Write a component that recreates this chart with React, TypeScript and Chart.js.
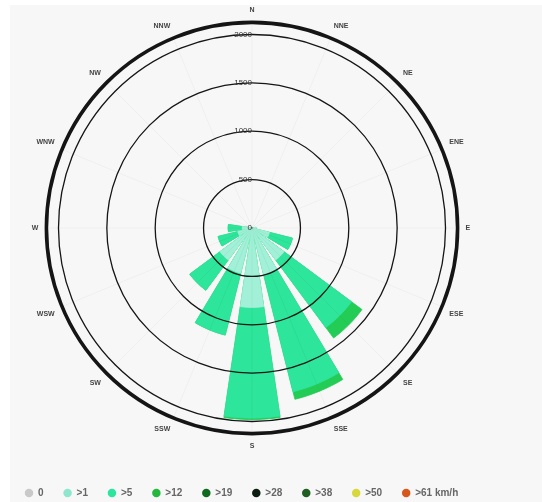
import React, { useEffect, useRef } from 'react';
import { Chart, registerables } from 'chart.js';

Chart.register(...registerables);

// Wind directions (clockwise from north)
const directions = ['N', 'NNE', 'NE', 'ENE', 'E', 'ESE', 'SE', 'SSE', 'S', 'SSW', 'SW', 'WSW', 'W', 'WNW', 'NW', 'NNW'];

// Hours per speed class (stacked)
const speedOver1 = [0, 0, 0, 0, 40, 185, 410, 500, 820, 480, 410, 150, 100, 0, 0, 0];
const speedOver5 = [0, 0, 0, 0, 0, 245, 870, 1245, 1145, 660, 390, 210, 145, 0, 0, 0];
const speedOver12 = [0, 0, 0, 0, 0, 0, 135, 80, 15, 0, 0, 0, 0, 0, 0, 0];

const seriesColors = ['#a3f0d8', '#2ee59c', '#22cc55'];

// Legend
const legendLabels = ['0', '>1', '>5', '>12', '>19', '>28', '>38', '>50', '>61 km/h'];
const legendColors = ['#c9c9c9', '#8fe6cf', '#2ee59c', '#25b83e', '#0f6a1f', '#0b1d10', '#1f5f22', '#d8d83c', '#d6591b'];

// Radial ticks
const tickValues = [0, 500, 1000, 1500, 2000];
const scaleMax = 2125;

const SECTOR = 360 / directions.length;
const BAR_SHARE = 0.75;
const HALF_BAR = (SECTOR * BAR_SHARE) / 2;
const GAP = SECTOR * (1 - BAR_SHARE);

// Each sector boundary region: right half of bar k, gap, left half of bar k+1
const arcAngles: number[] = directions.flatMap(() => [HALF_BAR, GAP, HALF_BAR]);
const arcIsGap: boolean[] = directions.flatMap(() => [false, true, false]);
const expand = (vals: number[]) =>
  vals.flatMap((_, k) => [vals[k], 0, vals[(k + 1) % vals.length]]);

const cum1 = speedOver1.map((v) => v);
const cum5 = speedOver1.map((v, i) => v + speedOver5[i]);
const cum12 = cum5.map((v, i) => v + speedOver12[i]);

const FONT = 'Liberation Sans, Arial, sans-serif';

export default function App() {
  const canvasRef = useRef<HTMLCanvasElement | null>(null);

  useEffect(() => {
    if (!canvasRef.current) return;
    const mk = (data: number[], color: string) => ({
      data: expand(data),
      backgroundColor: color,
      borderColor: color,
      borderWidth: (ctx: any) => (arcIsGap[ctx.dataIndex] ? 0 : 0.8),
      angle: (ctx: any) => arcAngles[ctx.dataIndex],
    });
    const chart = new Chart(canvasRef.current, {
      type: 'polarArea',
      data: {
        labels: directions,
        datasets: [
          mk(cum1, seriesColors[0]),
          mk(cum5, seriesColors[1]),
          mk(cum12, seriesColors[2]),
        ] as any,
      },
      options: {
        responsive: false,
        animation: false,
        layout: { padding: { top: 6, left: 5, right: 43, bottom: 0 } },
        plugins: {
          tooltip: { enabled: false },
          legend: {
            position: 'bottom',
            align: 'start',
            onClick: () => {},
            title: {
              display: true,
              text: '',
              padding: { top: 16, bottom: 0 },
              font: { size: 1, lineHeight: 1 },
            },
            labels: {
              usePointStyle: true,
              boxWidth: 8,
              boxHeight: 6,
              padding: 20,
              color: '#2a2a2a',
              font: { size: 10, weight: 'bold', family: FONT },
              generateLabels: () =>
                legendLabels.map((t, i) => ({
                  text: t,
                  fillStyle: legendColors[i],
                  strokeStyle: legendColors[i],
                  lineWidth: 0,
                  pointStyle: 'circle',
                  hidden: false,
                  index: i,
                })) as any,
            },
          },
        },
        scales: {
          r: {
            min: -1,
            max: scaleMax,
            startAngle: 0,
            afterBuildTicks: (scale: any) => {
              scale.ticks = [...tickValues, scaleMax].map((v) => ({ value: v }));
            },
            grid: {
              z: 1,
              circular: true,
              color: '#151515',
              lineWidth: (ctx: any) => (ctx.tick && ctx.tick.value === scaleMax ? 3.6 : 1.3),
            },
            angleLines: { display: true, color: 'rgba(0,0,0,0.035)', lineWidth: 1 },
            pointLabels: {
              display: true,
              padding: 2,
              color: '#444',
              font: { size: 7, weight: 'bold', family: FONT },
            },
            ticks: {
              z: 1,
              display: true,
              showLabelBackdrop: false,
              color: '#333',
              font: { size: 8, family: FONT },
              callback: (v: any) =>
                v === scaleMax ? '' : String(v) + '  '.repeat(String(v).length),
            },
          } as any,
        },
      } as any,
    });
    return () => chart.destroy();
  }, []);

  return (
    <div style={{ position: 'absolute', left: 0, top: 0, width: 542, height: 502, overflow: 'hidden', background: '#ffffff' }}>
      <div style={{ position: 'absolute', left: 10, top: 5, right: 0, bottom: 0, background: '#f7f7f7' }} />
      <canvas ref={canvasRef} width={542} height={508} style={{ position: 'absolute', left: 0, top: 0, display: 'block' }} />
    </div>
  );
}
